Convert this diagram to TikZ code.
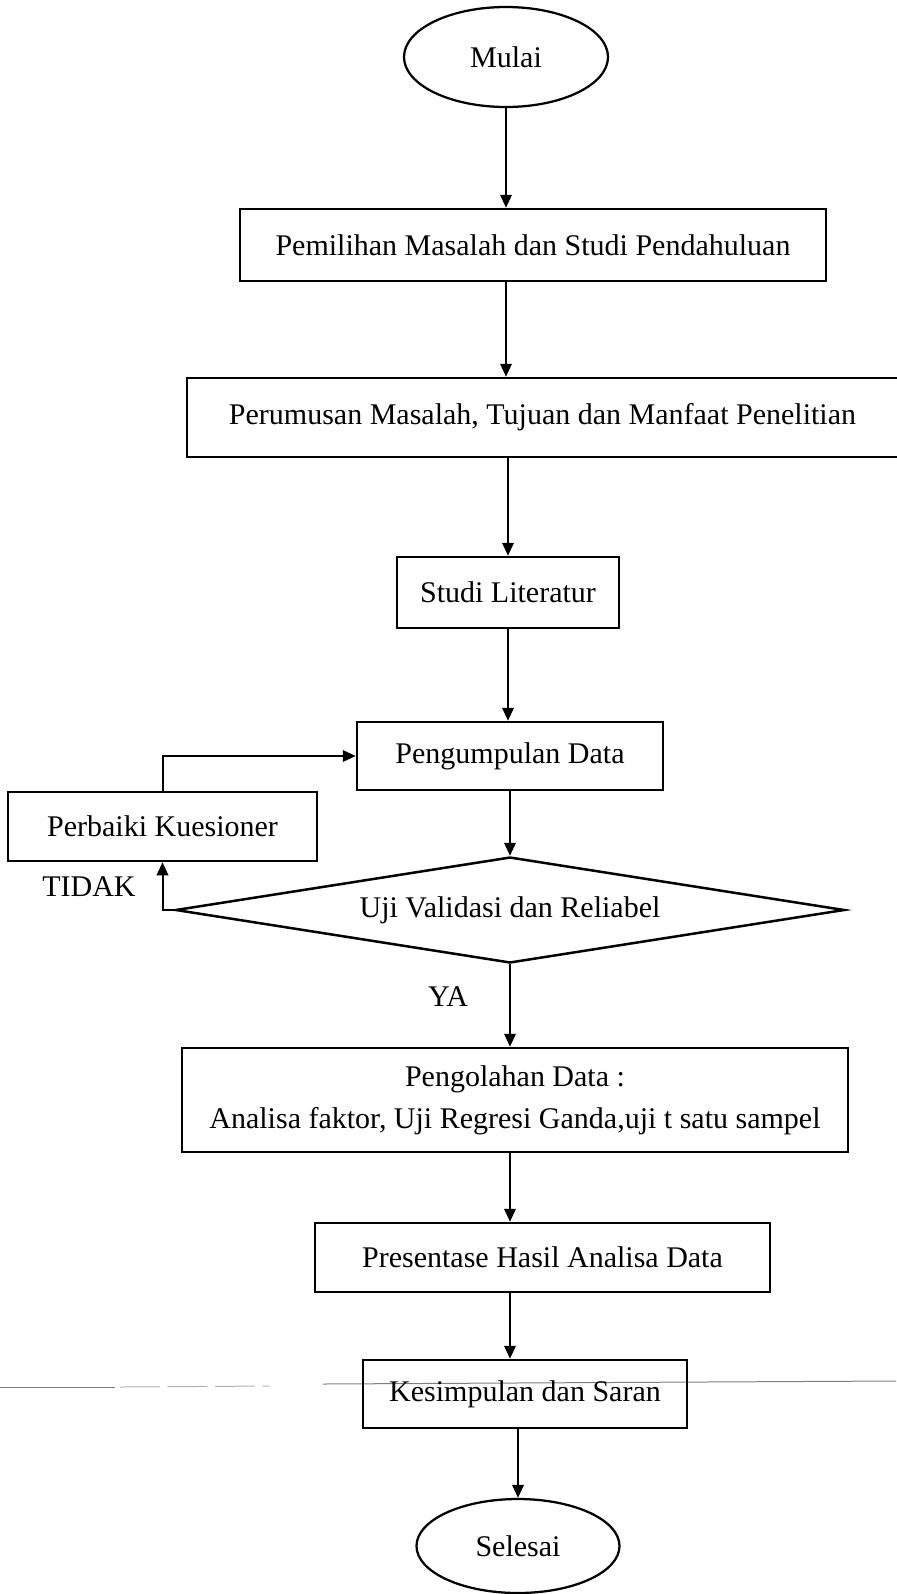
\documentclass[tikz,border=0pt]{standalone}
\usepackage{fontspec}
\setmainfont{Liberation Serif}
\usetikzlibrary{shapes.geometric,arrows.meta}

\tikzset{
  kotak/.style={draw, line width=1pt, inner sep=2pt, align=center},
  terminal/.style={draw, ellipse, line width=0.9pt, inner sep=0pt},
  keputusan/.style={draw, diamond, line width=1pt, inner sep=0pt, aspect=6},
  panah/.style={-{Triangle[length=5.2pt,width=4.6pt]}, line width=0.8pt},
}

\begin{document}
\begin{tikzpicture}[x=0.4pt, y=-0.4pt, every node/.style={font=\fontsize{12pt}{16.8pt}\selectfont}]
    \useasboundingbox (0,0) rectangle (896,1594);

    % garis bekas pindaian
    \draw[gray, line width=0.4pt] (0,1387) -- (115,1387);
    \draw[gray!60, line width=0.4pt, dash pattern=on 16pt off 3pt] (120,1387) -- (269,1386);
    \draw[gray, line width=0.4pt] (323,1384) -- (896,1381);

    \node[terminal, minimum width=81.6pt, minimum height=40pt] (mulai) at (506,57) {Mulai};
    \node[kotak, minimum width=234.4pt, minimum height=28.8pt] (pilih) at (533,245) {Pemilihan Masalah dan Studi Pendahuluan};
    \node[kotak, minimum width=284.4pt, minimum height=31.6pt] (rumus) at (542.5,417.5) {Perumusan Masalah, Tujuan dan Manfaat Penelitian};
    \node[kotak, minimum width=88.8pt, minimum height=28.4pt] (studi) at (508,592.5) {Studi Literatur};
    \node[kotak, minimum width=122.4pt, minimum height=27.2pt] (kumpul) at (510,756) {Pengumpulan Data};
    \node[kotak, minimum width=123.6pt, minimum height=27.6pt] (perbaiki) at (162.5,826.5) {Perbaiki Kuesioner};
    \node[keputusan, minimum width=267.6pt, minimum height=42.4pt] (uji) at (510,910) {Uji Validasi dan Reliabel};
    \node[kotak, minimum width=266.4pt, minimum height=41.6pt] (olah) at (515,1100) {Pengolahan Data :\\Analisa faktor, Uji Regresi Ganda,uji t satu sampel};
    \node[kotak, minimum width=182pt, minimum height=27.6pt] (hasil) at (542.5,1257.5) {Presentase Hasil Analisa Data};
    \node[kotak, minimum width=129.6pt, minimum height=27.2pt] (simpul) at (525,1394) {Kesimpulan dan Saran};
    \node[terminal, minimum width=81.2pt, minimum height=37.6pt] (selesai) at (518,1546) {Selesai};

    \node (tidak) at (89,887) {TIDAK};
    \node (ya) at (448,997) {YA};

    \draw[panah] (mulai) -- (mulai |- pilih.north);
    \draw[panah] (mulai |- pilih.south) -- (mulai |- rumus.north);
    \draw[panah] (studi |- rumus.south) -- (studi);
    \draw[panah] (studi) -- (studi |- kumpul.north);
    \draw[panah] (kumpul) -- (uji);
    \draw[panah] (uji.south) -- (uji.south |- olah.north);
    \draw[panah] (uji.south |- olah.south) -- (uji.south |- hasil.north);
    \draw[panah] (uji.south |- hasil.south) -- (uji.south |- simpul.north);
    \draw[panah] (selesai |- simpul.south) -- (selesai);

    \draw[panah] (uji.west) -| (perbaiki.south);
    \draw[panah] (perbaiki.north) |- (kumpul.west);
\end{tikzpicture}
\end{document}
